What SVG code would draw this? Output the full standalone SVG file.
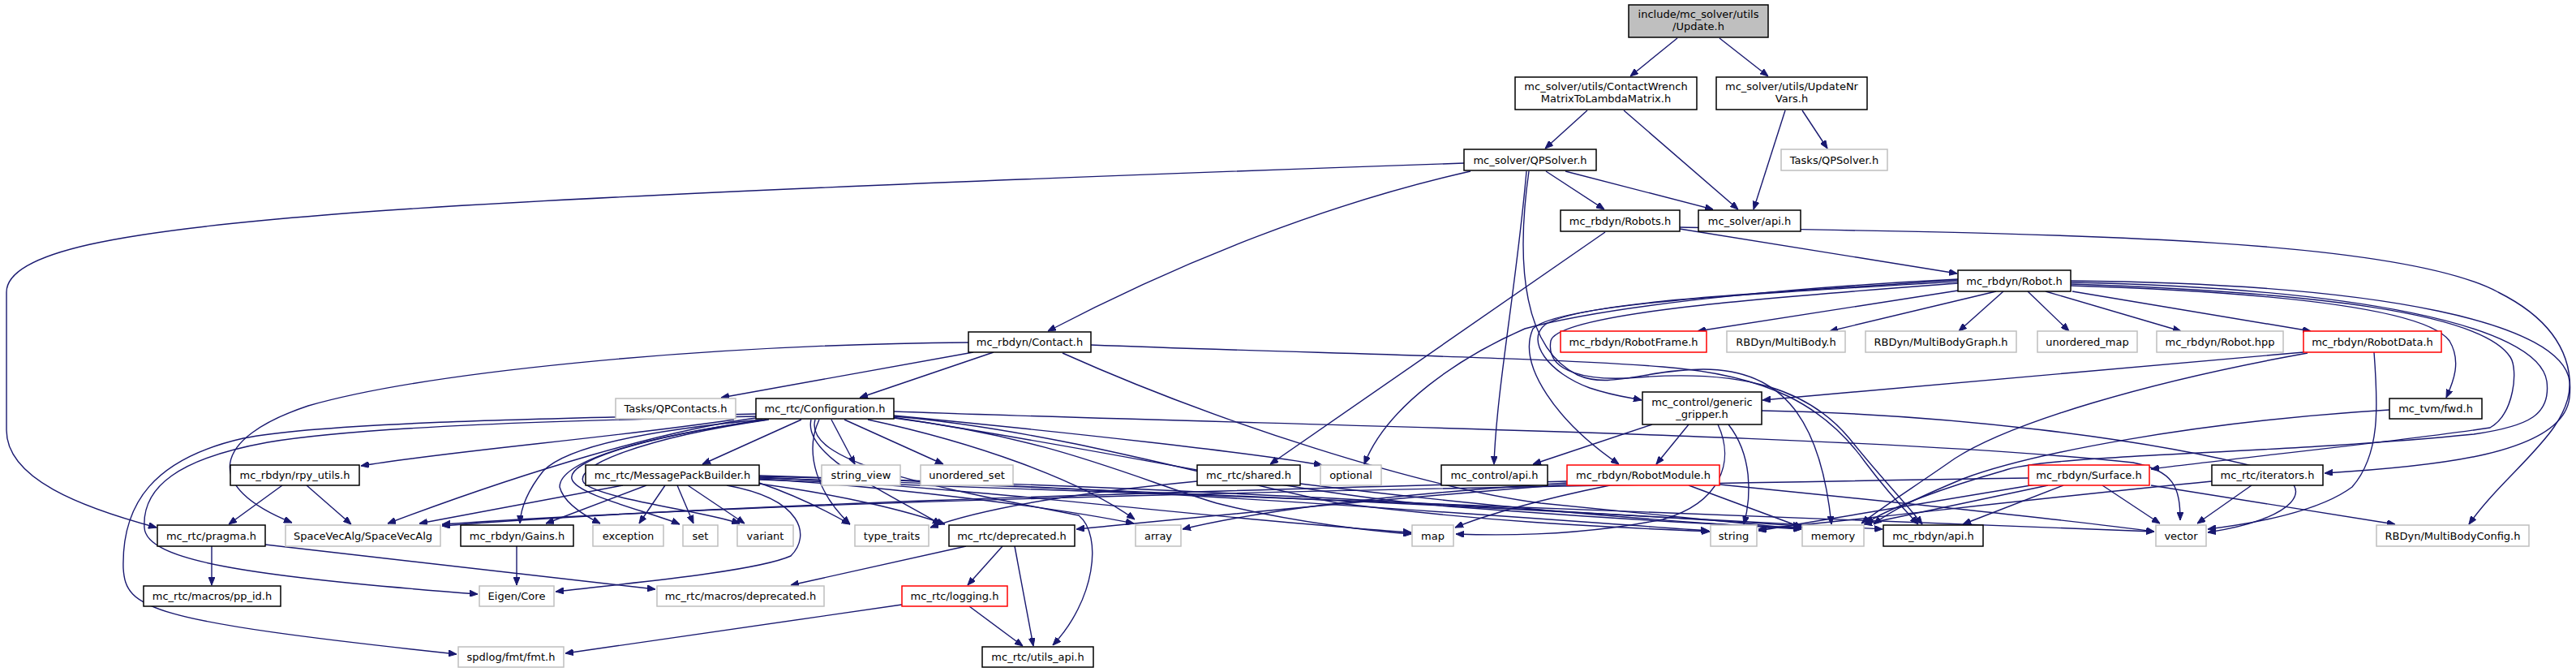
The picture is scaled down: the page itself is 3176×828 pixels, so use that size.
<svg xmlns="http://www.w3.org/2000/svg" width="3176" height="828" viewBox="0 0 3176 828">
<style>
.n rect{fill:#fff;stroke:#000;stroke-width:1.5}
.g rect{fill:#fff;stroke:#bfbfbf;stroke-width:1.5}
.r rect{fill:#fff;stroke:#f00;stroke-width:1.5}
.root rect{fill:#bfbfbf;stroke:#000;stroke-width:1.5}
text{font-family:"DejaVu Sans","Liberation Sans",sans-serif;font-size:13px;text-anchor:middle;fill:#000}
#edges path{fill:none;stroke:#191970;stroke-width:1.4;marker-end:url(#ah)}
</style>
<defs>
<marker id="ah" markerWidth="10" markerHeight="8" refX="10" refY="4" orient="auto" markerUnits="userSpaceOnUse"><path d="M0,0 L10,4 L0,8 z" fill="#191970" stroke="#191970" stroke-width="1"/></marker>
</defs>
<rect width="3176" height="828" fill="#fff"/>
<g id="edges">
<path d="M2068,47 L2010,94"/>
<path d="M2120,47 L2180,94"/>
<path d="M1957,136 L1905,183"/>
<path d="M2002,136 L2143,258"/>
<path d="M2201,136 L2162,258"/>
<path d="M2222,136 L2253,183"/>
<path d="M1930,211 L2112,258"/>
<path d="M1906,211 L1978,258"/>
<path d="M1813,211 C1640,250 1460,320 1292,408"/>
<path d="M1805,201 C1400,215 700,240 400,265 C150,285 8,310 8,360 L8,530 C8,590 100,625 193,650"/>
<path d="M1882,211 C1870,350 1845,480 1842,572"/>
<path d="M1885,211 C1868,330 1880,430 1945,462 C1985,480 2030,455 2100,455 C2200,455 2245,520 2258,646"/>
<path d="M2071,282 L2413,337"/>
<path d="M1979,286 L1566,572"/>
<path d="M2071,280 C2500,288 2950,290 3080,360 C3160,400 3172,450 3168,490 C3160,560 3000,575 2866,583"/>
<path d="M2414,358 L2093,408"/>
<path d="M2461,359 L2256,408"/>
<path d="M2470,359 L2415,408"/>
<path d="M2500,359 L2551,408"/>
<path d="M2522,359 L2689,408"/>
<path d="M2555,359 L2849,408"/>
<path d="M2553,352 C2800,360 2990,380 3020,420 C3035,445 3025,470 3016,490"/>
<path d="M2553,350 C2850,360 3060,385 3095,440 C3105,455 3100,510 3070,527 C2950,545 2750,565 2652,578"/>
<path d="M2553,348 C2900,355 3130,400 3140,470 C3145,510 3120,525 3050,535 C2800,560 2520,560 2470,580 C2400,600 2330,625 2300,645"/>
<path d="M2553,346 C2950,350 3160,400 3168,470 C3172,530 3090,580 3044,646"/>
<path d="M2414,345 C2200,360 1950,370 1905,400 C1880,420 1910,460 1960,478 C1990,488 2010,490 2024,493"/>
<path d="M2414,347 C2150,362 1920,375 1890,405 C1870,450 1920,520 1996,572"/>
<path d="M2414,344 C2250,352 2000,372 1880,405 C1800,440 1710,500 1682,572"/>
<path d="M2414,349 C2200,365 1920,385 1912,420 C1905,460 1960,470 2020,465 C2150,455 2230,480 2280,540 C2320,590 2350,620 2370,646"/>
<path d="M1200,434 L889,490"/>
<path d="M1225,434 L1060,490"/>
<path d="M1194,422 C850,425 520,460 380,500 C260,540 250,600 360,644"/>
<path d="M1310,435 C1500,520 1750,600 1900,620 C2050,635 2150,645 2221,652"/>
<path d="M1345,425 C1600,435 1900,440 2050,452 C2180,462 2250,500 2300,570 C2330,610 2350,630 2365,646"/>
<path d="M905,517 C750,540 560,555 445,574"/>
<path d="M988,517 L866,572"/>
<path d="M932,515 C820,530 650,580 478,645"/>
<path d="M932,513 C700,518 450,525 330,545 C220,565 175,600 178,650 C180,690 300,710 589,732"/>
<path d="M932,510 C700,515 400,520 300,540 C190,565 150,620 152,700 C155,750 180,765 563,806"/>
<path d="M940,517 C800,530 700,550 670,580 C650,605 642,625 641,645"/>
<path d="M945,517 C780,540 690,570 690,600 C695,620 720,635 740,645"/>
<path d="M945,517 C780,540 700,570 705,590 C710,610 800,630 838,646"/>
<path d="M948,517 C790,540 705,575 720,595 C740,615 870,630 912,645"/>
<path d="M1025,517 L1054,572"/>
<path d="M1041,517 L1163,572"/>
<path d="M1102,512 C1320,533 1545,558 1630,573"/>
<path d="M1102,507 C1600,525 2300,535 2630,570 C2680,580 2688,600 2688,641"/>
<path d="M1070,517 C1200,545 1330,590 1399,640"/>
<path d="M1102,515 C1300,540 1400,590 1500,620 C1600,645 1700,655 1740,658"/>
<path d="M1102,513 C1300,530 1500,590 1650,620 C1850,645 2000,650 2108,655"/>
<path d="M1100,514 C1400,560 1600,610 1800,625 C2000,640 2150,648 2221,650"/>
<path d="M1000,517 C990,560 1080,600 1160,646"/>
<path d="M1010,517 C990,560 1010,610 1048,646"/>
<path d="M1005,517 C990,570 1150,600 1330,635 C1360,660 1350,740 1298,795"/>
<path d="M768,598 L517,645"/>
<path d="M797,598 L673,645"/>
<path d="M820,598 L788,645"/>
<path d="M835,598 L855,645"/>
<path d="M848,598 L918,645"/>
<path d="M896,598 C990,615 1000,660 975,685 C930,705 760,720 685,729"/>
<path d="M936,595 C980,610 1020,630 1048,646"/>
<path d="M936,596 C1040,610 1120,630 1165,646"/>
<path d="M936,590 C1100,600 1300,625 1398,645"/>
<path d="M936,588 C1200,600 1500,640 1740,656"/>
<path d="M936,586 C1400,600 1900,640 2107,654"/>
<path d="M936,587 C1500,600 2000,635 2221,648"/>
<path d="M936,589 C1500,605 2100,640 2321,652"/>
<path d="M936,591 C1500,610 2300,640 2656,655"/>
<path d="M348,598 L282,646"/>
<path d="M378,598 L433,646"/>
<path d="M261,673 L261,721"/>
<path d="M327,671 L808,726"/>
<path d="M637,673 L637,721"/>
<path d="M1476,593 C1300,610 1200,630 1147,650"/>
<path d="M1603,596 C1800,620 2000,640 2221,652"/>
<path d="M1932,595 C1700,610 1550,630 1458,652"/>
<path d="M1932,597 C1700,615 1450,640 1327,652"/>
<path d="M1985,598 C1900,615 1830,635 1794,650"/>
<path d="M2082,598 L2222,650"/>
<path d="M2120,597 C2300,615 2550,640 2656,655"/>
<path d="M1932,593 C1500,605 900,620 545,648"/>
<path d="M2037,523 L1890,572"/>
<path d="M2082,523 L2042,572"/>
<path d="M2131,523 C2160,560 2160,610 2150,646"/>
<path d="M2118,523 C2140,570 2120,620 2050,640 C1950,660 1850,660 1795,658"/>
<path d="M2172,506 C2400,510 2650,540 2800,580 C2860,600 2830,640 2722,656"/>
<path d="M2840,434 L2173,493"/>
<path d="M2845,435 C2650,470 2480,520 2410,565 C2360,600 2320,625 2295,645"/>
<path d="M2927,434 C2932,500 2935,560 2900,600 C2860,630 2780,645 2722,652"/>
<path d="M2946,505 C2700,520 2500,560 2420,590 C2360,615 2330,630 2310,646"/>
<path d="M2501,589 C1800,600 1000,615 545,646"/>
<path d="M2510,597 L2168,654"/>
<path d="M2525,598 L2298,646"/>
<path d="M2544,598 L2420,646"/>
<path d="M2592,598 L2663,645"/>
<path d="M2652,598 L2953,646"/>
<path d="M2776,598 L2709,645"/>
<path d="M2727,593 C2500,615 2300,640 2168,652"/>
<path d="M1191,673 L975,721"/>
<path d="M1236,673 L1193,721"/>
<path d="M1251,673 L1274,796"/>
<path d="M1195,747 L1261,796"/>
<path d="M1112,745 L697,805"/>
</g>
<g id="n_update" class="root"><rect x="2008" y="6" width="172" height="40"/><text x="2094" y="22">include/mc_solver/utils</text><text x="2094" y="37">/Update.h</text></g>
<g id="n_cwm" class="n"><rect x="1868" y="95" width="224" height="40"/><text x="1980" y="111">mc_solver/utils/ContactWrench</text><text x="1980" y="126">MatrixToLambdaMatrix.h</text></g>
<g id="n_unv" class="n"><rect x="2116" y="95" width="186" height="40"/><text x="2209" y="111">mc_solver/utils/UpdateNr</text><text x="2209" y="126">Vars.h</text></g>
<g id="n_qps" class="n"><rect x="1805" y="184" width="163" height="26"/><text x="1886.5" y="201.5">mc_solver/QPSolver.h</text></g>
<g id="n_tqps" class="g"><rect x="2196" y="184" width="131" height="26"/><text x="2261.5" y="201.5">Tasks/QPSolver.h</text></g>
<g id="n_robots" class="n"><rect x="1924" y="259" width="147" height="26"/><text x="1997.5" y="276.5">mc_rbdyn/Robots.h</text></g>
<g id="n_sapi" class="n"><rect x="2094" y="259" width="126" height="26"/><text x="2157" y="276.5">mc_solver/api.h</text></g>
<g id="n_robot" class="n"><rect x="2414" y="333" width="139" height="26"/><text x="2483.5" y="350.5">mc_rbdyn/Robot.h</text></g>
<g id="n_contact" class="n"><rect x="1194" y="409" width="151" height="25"/><text x="1269.5" y="426">mc_rbdyn/Contact.h</text></g>
<g id="n_rframe" class="r"><rect x="1924" y="408" width="180" height="26"/><text x="2014" y="425.5">mc_rbdyn/RobotFrame.h</text></g>
<g id="n_mb" class="g"><rect x="2129" y="408" width="146" height="26"/><text x="2202" y="425.5">RBDyn/MultiBody.h</text></g>
<g id="n_mbg" class="g"><rect x="2300" y="408" width="186" height="26"/><text x="2393" y="425.5">RBDyn/MultiBodyGraph.h</text></g>
<g id="n_umap" class="g"><rect x="2512" y="408" width="123" height="26"/><text x="2573.5" y="425.5">unordered_map</text></g>
<g id="n_rhpp" class="g"><rect x="2659" y="408" width="156" height="26"/><text x="2737" y="425.5">mc_rbdyn/Robot.hpp</text></g>
<g id="n_rdata" class="r"><rect x="2840" y="408" width="170" height="26"/><text x="2925" y="425.5">mc_rbdyn/RobotData.h</text></g>
<g id="n_qpc" class="g"><rect x="759" y="491" width="148" height="25"/><text x="833" y="508">Tasks/QPContacts.h</text></g>
<g id="n_config" class="n"><rect x="932" y="491" width="170" height="25"/><text x="1017" y="508">mc_rtc/Configuration.h</text></g>
<g id="n_gripper" class="n"><rect x="2025" y="483" width="147" height="40"/><text x="2098.5" y="499.5">mc_control/generic</text><text x="2098.5" y="514.5">_gripper.h</text></g>
<g id="n_fwd" class="n"><rect x="2946" y="491" width="114" height="25"/><text x="3003" y="508">mc_tvm/fwd.h</text></g>
<g id="n_rpy" class="n"><rect x="284" y="573" width="159" height="25"/><text x="363.5" y="590">mc_rbdyn/rpy_utils.h</text></g>
<g id="n_mpb" class="n"><rect x="722" y="573" width="214" height="25"/><text x="829" y="590">mc_rtc/MessagePackBuilder.h</text></g>
<g id="n_sview" class="g"><rect x="1013" y="573" width="97" height="25"/><text x="1061.5" y="590">string_view</text></g>
<g id="n_uset" class="g"><rect x="1135" y="573" width="114" height="25"/><text x="1192" y="590">unordered_set</text></g>
<g id="n_shared" class="n"><rect x="1476" y="573" width="127" height="25"/><text x="1539.5" y="590">mc_rtc/shared.h</text></g>
<g id="n_optional" class="g"><rect x="1628" y="573" width="75" height="25"/><text x="1665.5" y="590">optional</text></g>
<g id="n_capi" class="n"><rect x="1777" y="573" width="131" height="25"/><text x="1842.5" y="590">mc_control/api.h</text></g>
<g id="n_rmodule" class="r"><rect x="1932" y="573" width="188" height="25"/><text x="2026" y="590">mc_rbdyn/RobotModule.h</text></g>
<g id="n_surface" class="r"><rect x="2501" y="573" width="149" height="25"/><text x="2575.5" y="590">mc_rbdyn/Surface.h</text></g>
<g id="n_iter" class="n"><rect x="2727" y="573" width="137" height="25"/><text x="2795.5" y="590">mc_rtc/iterators.h</text></g>
<g id="n_pragma" class="n"><rect x="194" y="647" width="133" height="26"/><text x="260.5" y="664.5">mc_rtc/pragma.h</text></g>
<g id="n_sva" class="g"><rect x="352" y="647" width="191" height="26"/><text x="447.5" y="664.5">SpaceVecAlg/SpaceVecAlg</text></g>
<g id="n_gains" class="n"><rect x="568" y="647" width="139" height="26"/><text x="637.5" y="664.5">mc_rbdyn/Gains.h</text></g>
<g id="n_exc" class="g"><rect x="731" y="647" width="87" height="26"/><text x="774.5" y="664.5">exception</text></g>
<g id="n_set" class="g"><rect x="842" y="647" width="43" height="26"/><text x="863.5" y="664.5">set</text></g>
<g id="n_variant" class="g"><rect x="909" y="647" width="69" height="26"/><text x="943.5" y="664.5">variant</text></g>
<g id="n_ttraits" class="g"><rect x="1054" y="647" width="91" height="26"/><text x="1099.5" y="664.5">type_traits</text></g>
<g id="n_dep" class="n"><rect x="1170" y="647" width="155" height="26"/><text x="1247.5" y="664.5">mc_rtc/deprecated.h</text></g>
<g id="n_array" class="g"><rect x="1400" y="647" width="56" height="26"/><text x="1428" y="664.5">array</text></g>
<g id="n_map" class="g"><rect x="1741" y="647" width="51" height="26"/><text x="1766.5" y="664.5">map</text></g>
<g id="n_string" class="g"><rect x="2109" y="647" width="57" height="26"/><text x="2137.5" y="664.5">string</text></g>
<g id="n_memory" class="g"><rect x="2222" y="647" width="76" height="26"/><text x="2260" y="664.5">memory</text></g>
<g id="n_rapi" class="n"><rect x="2322" y="647" width="123" height="26"/><text x="2383.5" y="664.5">mc_rbdyn/api.h</text></g>
<g id="n_vector" class="g"><rect x="2658" y="647" width="62" height="26"/><text x="2689" y="664.5">vector</text></g>
<g id="n_mbc" class="g"><rect x="2930" y="647" width="188" height="26"/><text x="3024" y="664.5">RBDyn/MultiBodyConfig.h</text></g>
<g id="n_ppid" class="n"><rect x="177" y="722" width="169" height="25"/><text x="261.5" y="739">mc_rtc/macros/pp_id.h</text></g>
<g id="n_eigen" class="g"><rect x="591" y="722" width="92" height="25"/><text x="637" y="739">Eigen/Core</text></g>
<g id="n_mdep" class="g"><rect x="810" y="722" width="206" height="25"/><text x="913" y="739">mc_rtc/macros/deprecated.h</text></g>
<g id="n_logging" class="r"><rect x="1112" y="722" width="130" height="25"/><text x="1177" y="739">mc_rtc/logging.h</text></g>
<g id="n_fmt" class="g"><rect x="565" y="797" width="130" height="25"/><text x="630" y="814">spdlog/fmt/fmt.h</text></g>
<g id="n_uapi" class="n"><rect x="1211" y="797" width="137" height="25"/><text x="1279.5" y="814">mc_rtc/utils_api.h</text></g>
</svg>
